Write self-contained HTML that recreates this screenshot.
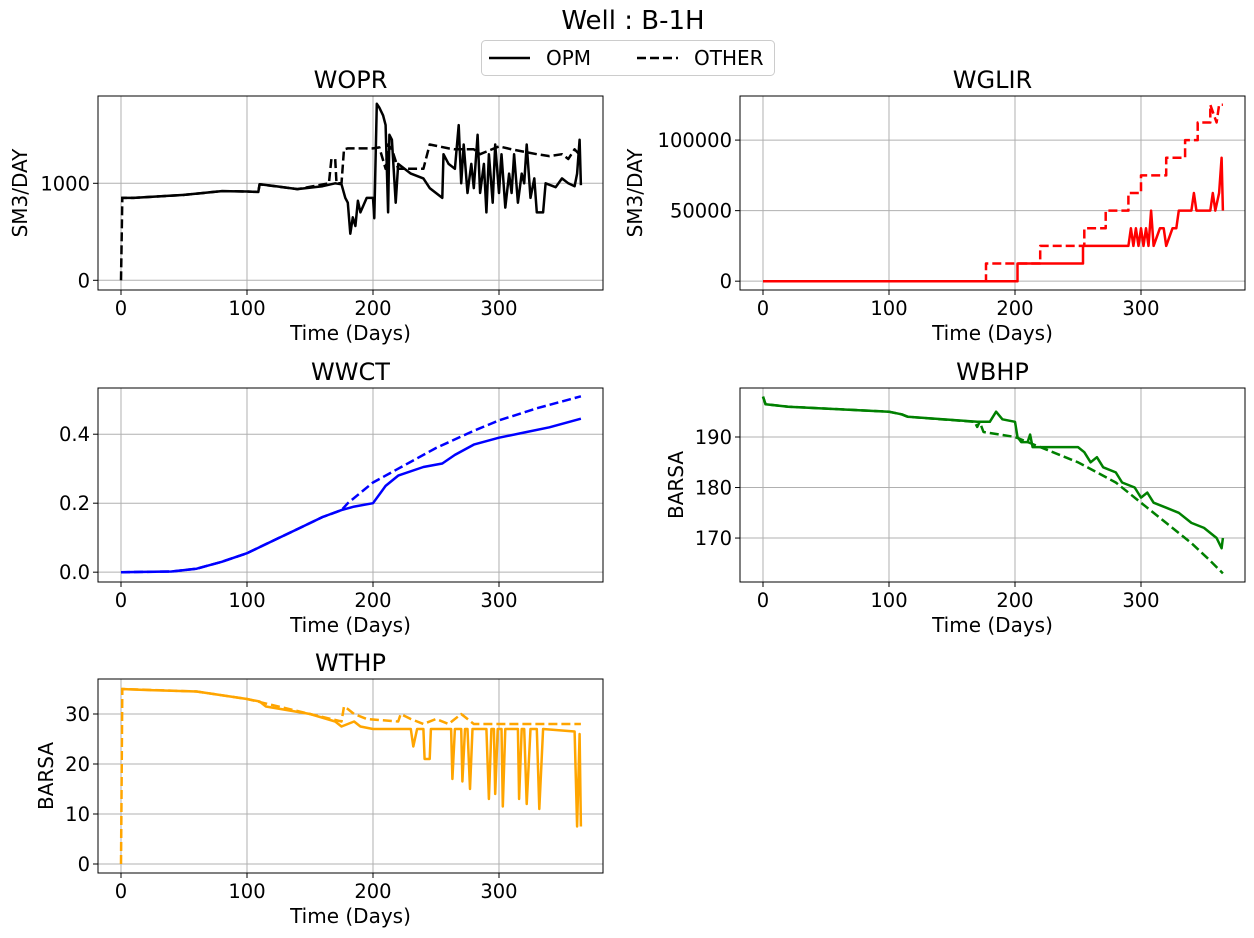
<!DOCTYPE html>
<html><head><meta charset="utf-8">
<style>
body{margin:0;background:#fff;}
svg{display:block;font-family:"DejaVu Sans","Liberation Sans",sans-serif;}
</style></head>
<body>
<svg id="fig" width="1254" height="938" viewBox="0 0 1254 938">
<text x="633" y="29" font-size="26" text-anchor="middle">Well : B-1H</text>
<g>
<rect x="481.5" y="40.5" width="293" height="35" rx="4" fill="#fff" stroke="#ccc"/>
<line x1="489" y1="58" x2="530" y2="58" stroke="#000" stroke-width="2.5"/>
<text x="546" y="65" font-size="20">OPM</text>
<line x1="637" y1="58" x2="678" y2="58" stroke="#000" stroke-width="2.5" stroke-dasharray="9,4"/>
<text x="694" y="65" font-size="20">OTHER</text>
</g>
</svg>
<script>
// ---- data ----
const woprOpmDays=[0,10,50,80,100,109,110,120,140,160,170,175,178,180,182,184,186,188,190,195,200,201,203,205,208,210,212,213,215,218,220,230,240,245,250,255,256,260,265,268,270,272,275,278,280,283,285,288,290,292,295,297,300,302,305,308,310,312,315,318,320,322,325,328,330,335,337,345,350,355,360,362,364,365];
const woprOpmVals=[850,850,880,920,915,910,990,975,940,970,1000,990,850,800,480,650,560,820,700,850,850,640,1820,1780,1700,1600,700,1500,1450,800,1200,1100,1050,950,900,850,1300,1200,1150,1600,1000,1400,900,1200,950,1500,900,1200,700,1300,800,1400,900,1300,750,1100,900,1300,800,1100,1000,1400,850,1050,700,700,1000,960,1050,1000,970,1100,1450,980];
const woprOthDays=[0,1,10,50,80,100,109,110,140,165,167,170,171,175,177,180,200,205,210,212,215,220,240,245,260,265,280,285,300,310,330,340,350,355,360,365];
const woprOthVals=[0,850,850,880,920,915,910,990,940,1000,1250,1250,1000,1000,1350,1360,1360,1370,1150,1400,1350,1150,1150,1400,1360,1350,1350,1300,1380,1350,1300,1280,1300,1250,1350,1280];
const wglirOpmDays=[0,202,202,254,254,290,292,294,296,298,300,302,304,306,308,310,315,318,320,325,328,330,340,342,344,350,355,357,359,362,364,365];
const wglirOpmVals=[0,0,12500,12500,25000,25000,37500,25000,37500,25000,37500,25000,37500,25000,50000,25000,37500,37500,25000,37500,37500,50000,50000,62500,50000,50000,50000,62500,50000,62500,87500,50000];
const wglirOthDays=[0,177,177,220,220,255,255,272,272,290,290,300,300,320,320,335,335,345,345,355,355,360,362,365];
const wglirOthVals=[0,0,12500,12500,25000,25000,37500,37500,50000,50000,62500,62500,75000,75000,87500,87500,100000,100000,112500,112500,125000,112500,125000,125000];
const wwctOpmDays=[0,40,60,80,100,120,140,160,175,185,200,210,220,240,255,265,280,300,320,340,365];
const wwctOpmVals=[0,0.002,0.01,0.03,0.055,0.09,0.125,0.16,0.18,0.19,0.2,0.25,0.28,0.305,0.315,0.34,0.37,0.39,0.405,0.42,0.445];
const wwctOthDays=[0,40,60,80,100,120,140,160,175,180,200,220,250,280,300,330,365];
const wwctOthVals=[0,0.002,0.01,0.03,0.055,0.09,0.125,0.16,0.18,0.2,0.26,0.3,0.36,0.41,0.44,0.475,0.51];
const wbhpOpmDays=[0,2,20,100,110,115,170,180,185,190,200,202,205,210,212,214,250,255,260,265,270,280,285,295,300,305,310,320,330,340,350,360,364,365];
const wbhpOpmVals=[198,196.5,196,195,194.5,194,193,193,195,193.5,193,190,189,189,190.5,188,188,187,185,186,184,183,181,180,178,179,177,176,175,173,172,170,168,170];
const wbhpOthDays=[0,2,20,100,110,115,168,170,172,175,200,220,250,280,300,320,340,355,365];
const wbhpOthVals=[198,196.5,196,195,194.5,194,193,192,193,191,190,188,185,181,177,173,169,165.5,163];
const wthpOpmDays=[0,20,60,100,110,115,150,170,175,180,185,190,200,230,232,235,240,241,245,246,262,263,265,270,271,273,275,277,279,290,292,294,296,297,299,302,303,305,315,316,318,320,322,325,330,332,335,360,362,364,365];
const wthpOpmVals=[35,34.8,34.5,33,32.5,31.5,30,28.5,27.5,28,28.5,27.5,27,27,23.5,27,27,21,21,27,27,17,27,27,16.5,27,27,15,27,27,13,27,27,14,27,27,11.5,27,27,13,27,27,12,27,27,11,27,26.5,7.5,26,7.5];
const wthpOthDays=[0,1,60,100,150,175,177,180,185,195,220,222,230,240,250,260,270,280,300,320,340,365];
const wthpOthVals=[0,35,34.5,33,30,28.5,31.5,31,30,29,28.5,30,29,28,29,28,30,28,28,28,28,28];

const NS="http://www.w3.org/2000/svg";
const svg=document.getElementById('fig');
function el(t,a,p){const e=document.createElementNS(NS,t);for(const k in a)e.setAttribute(k,a[k]);(p||svg).appendChild(e);return e;}

const panels=[
 {name:'wopr',title:'WOPR',x0:98,x1:603,y0:96,y1:290,ymin:-100,ymax:1900,yticks:[0,1000],ylab:'SM3/DAY',color:'#000',od:woprOpmDays,ov:woprOpmVals,td:woprOthDays,tv:woprOthVals,fmt:v=>String(v)},
 {name:'wglir',title:'WGLIR',x0:740,x1:1245,y0:96,y1:290,ymin:-6250,ymax:131250,yticks:[0,50000,100000],ylab:'SM3/DAY',color:'#ff0000',od:wglirOpmDays,ov:wglirOpmVals,td:wglirOthDays,tv:wglirOthVals,fmt:v=>String(v)},
 {name:'wwct',title:'WWCT',x0:98,x1:603,y0:388,y1:582,ymin:-0.0285,ymax:0.534,yticks:[0,0.2,0.4],ylab:'',color:'#0000ff',od:wwctOpmDays,ov:wwctOpmVals,td:wwctOthDays,tv:wwctOthVals,fmt:v=>v.toFixed(1)},
 {name:'wbhp',title:'WBHP',x0:740,x1:1245,y0:388,y1:582,ymin:161.3,ymax:199.7,yticks:[170,180,190],ylab:'BARSA',color:'#008000',od:wbhpOpmDays,ov:wbhpOpmVals,td:wbhpOthDays,tv:wbhpOthVals,fmt:v=>String(v)},
 {name:'wthp',title:'WTHP',x0:98,x1:603,y0:679,y1:873,ymin:-1.8,ymax:37,yticks:[0,10,20,30],ylab:'BARSA',color:'#ffa500',od:wthpOpmDays,ov:wthpOpmVals,td:wthpOthDays,tv:wthpOthVals,fmt:v=>String(v)}
];
const xTicks=[0,100,200,300];
panels.forEach(p=>{
 const sx=d=>p.x0+(d+18.25)/400.8*(p.x1-p.x0);
 const sy=v=>p.y1-(v-p.ymin)/(p.ymax-p.ymin)*(p.y1-p.y0);
 const g=el('g',{});
 
 
 xTicks.forEach(t=>{
  const x=sx(t);
  const gl=el('line',{x1:x,x2:x,y1:p.y0,y2:p.y1,stroke:'#b0b0b0','stroke-width':1},g);
  
  
  el('line',{x1:x,x2:x,y1:p.y1,y2:p.y1+5,stroke:'#000','stroke-width':1},g);
  const tx=el('text',{x:x,y:p.y1+25,'font-size':19.5,'text-anchor':'middle'},g);
  tx.textContent=t;
  
  
 });
 p.yticks.forEach(t=>{
  const y=sy(t);
  const gl=el('line',{x1:p.x0,x2:p.x1,y1:y,y2:y,stroke:'#b0b0b0','stroke-width':1},g);
  
  
  el('line',{x1:p.x0-5,x2:p.x0,y1:y,y2:y,stroke:'#000','stroke-width':1},g);
  const tx=el('text',{x:p.x0-8,y:y+7,'font-size':19.5,'text-anchor':'end'},g);
  tx.textContent=p.fmt(t);
  
  
 });
 const cp=el('clipPath',{id:'c'+p.name},g);
 el('rect',{x:p.x0,y:p.y0,width:p.x1-p.x0,height:p.y1-p.y0},cp);
 const mk=(d,v)=>d.map((dd,i)=>sx(dd).toFixed(1)+','+sy(v[i]).toFixed(1)).join(' ');
 const lo=el('polyline',{points:mk(p.td,p.tv),fill:'none',stroke:p.color,'stroke-width':2.5,'stroke-dasharray':'9,4','clip-path':'url(#c'+p.name+')','stroke-linejoin':'round'},g);
 
 
 const lp=el('polyline',{points:mk(p.od,p.ov),fill:'none',stroke:p.color,'stroke-width':2.5,'clip-path':'url(#c'+p.name+')','stroke-linejoin':'round'},g);
 
 
 el('rect',{x:p.x0,y:p.y0,width:p.x1-p.x0,height:p.y1-p.y0,fill:'none',stroke:'#000','stroke-width':1},g);
 const tt=el('text',{x:(p.x0+p.x1)/2,y:p.y0-8,'font-size':24,'text-anchor':'middle'},g);
 tt.textContent=p.title;
 
 
 const xl=el('text',{x:(p.x0+p.x1)/2,y:p.y1+50,'font-size':20,'text-anchor':'middle'},g);
 xl.textContent='Time (Days)';
 
 
 if(p.ylab){
  const lx=p.name==='wbhp'?683:(p.name==='wthp'?53:(p.name==='wglir'?642:27));
  const yl=el('text',{x:lx,y:(p.y0+p.y1)/2,'font-size':20,'text-anchor':'middle',transform:'rotate(-90 '+lx+' '+(p.y0+p.y1)/2+')'},g);
  yl.textContent=p.ylab;
  
  
 }
});
</script>
</body></html>
